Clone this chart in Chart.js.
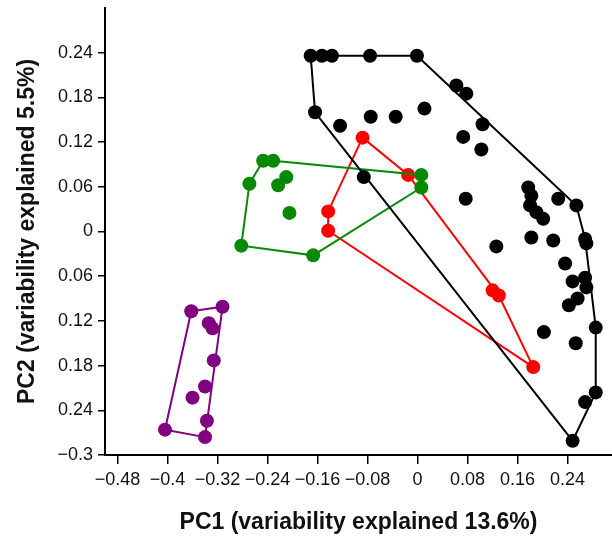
<!DOCTYPE html>
<html>
<head>
<meta charset="utf-8">
<script src="https://cdn.jsdelivr.net/npm/chart.js@4.4.1/dist/chart.umd.min.js"></script>
<style>
  html, body { margin: 0; padding: 0; background: #fff; }
  #wrap { width: 612px; height: 541px; }
</style>
</head>
<body>
<div id="wrap"><canvas id="pca"></canvas></div>
<script>
// PCA scores, one pair of arrays per group (PC1, PC2)
const blackX = [-0.171, -0.153, -0.137, -0.076, -0.001, 0.062, 0.078, -0.164, -0.124, -0.075,
  -0.035, 0.011, 0.104, 0.073, 0.102, -0.086, 0.077, 0.177, 0.182, 0.180,
  0.190, 0.201, 0.225, 0.254, 0.182, 0.217, 0.126, 0.268, 0.270, 0.236,
  0.248, 0.268, 0.270, 0.256, 0.242, 0.285, 0.202, 0.253, 0.285, 0.268, 0.248];
const blackY = [0.236, 0.236, 0.236, 0.236, 0.236, 0.196, 0.185, 0.160, 0.142, 0.154,
  0.154, 0.165, 0.144, 0.127, 0.110, 0.073, 0.044, 0.059, 0.048, 0.035,
  0.026, 0.017, 0.044, 0.035, -0.008, -0.012, -0.020, -0.010, -0.016, -0.043,
  -0.067, -0.062, -0.075, -0.090, -0.099, -0.129, -0.135, -0.150, -0.216, -0.229, -0.281];
const blackHull = [0, 4, 23, 27, 35, 38, 40, 7, 0];

const greenX = [-0.247, -0.231, -0.269, -0.210, -0.223, -0.205, -0.282, -0.167, 0.006, 0.006];
const greenY = [0.095, 0.095, 0.064, 0.073, 0.062, 0.025, -0.019, -0.032, 0.076, 0.059];
const greenHull = [0, 1, 8, 9, 7, 6, 2, 0];

const redX = [-0.088, -0.015, -0.143, -0.143, 0.120, 0.130, 0.185];
const redY = [0.126, 0.076, 0.027, 0.001, -0.079, -0.086, -0.182];
const redHull = [0, 1, 5, 6, 3, 2, 0];

const purpleX = [-0.362, -0.312, -0.334, -0.328, -0.326, -0.340, -0.360, -0.337, -0.404, -0.340];
const purpleY = [-0.107, -0.101, -0.123, -0.130, -0.173, -0.208, -0.223, -0.254, -0.266, -0.276];
const purpleHull = [0, 1, 9, 8, 0];

// axis ticks as printed on the original figure
const xTicks = [-0.48, -0.4, -0.32, -0.24, -0.16, -0.08, 0, 0.08, 0.16, 0.24];
const xTickLabels = ['\u22120.48', '\u22120.4', '\u22120.32', '\u22120.24', '\u22120.16', '\u22120.08', '0', '0.08', '0.16', '0.24'];
const yTicks = [-0.3, -0.24, -0.18, -0.12, -0.06, 0, 0.06, 0.12, 0.18, 0.24];
const yTickLabels = ['\u22120.3', '0.24', '0.18', '0.12', '0.06', '0', '0.06', '0.12', '0.18', '0.24'];

const pts = (xs, ys) => xs.map((x, i) => ({ x, y: ys[i] }));
const hull = (xs, ys, idx) => idx.map(i => ({ x: xs[i], y: ys[i] }));

function group(xs, ys, idx, color){
  return [
    { data: hull(xs, ys, idx), showLine: true, borderColor: color, borderWidth: 2,
      pointRadius: 0, fill: false, tension: 0 },
    { data: pts(xs, ys), showLine: false, backgroundColor: color, borderWidth: 0,
      pointRadius: 7, pointHoverRadius: 7 }
  ];
}

const FONT = "'Liberation Sans', Arial, sans-serif";

new Chart(document.getElementById('pca'), {
  type: 'scatter',
  data: {
    datasets: [
      ...group(blackX, blackY, blackHull, '#000000'),
      ...group(greenX, greenY, greenHull, '#068a06'),
      ...group(redX, redY, redHull, '#ff0000'),
      ...group(purpleX, purpleY, purpleHull, '#800080')
    ]
  },
  options: {
    responsive: true,
    maintainAspectRatio: false,
    animation: false,
    events: [],
    layout: { autoPadding: false, padding: { top: 8, right: 0, bottom: 0, left: 0 } },
    plugins: { legend: { display: false }, tooltip: { enabled: false } },
    scales: {
      x: {
        type: 'linear', min: -0.5, max: 0.311,
        afterBuildTicks: s => { s.ticks = xTicks.map(v => ({ value: v })); },
        afterFit: s => { s.height = 86; s.paddingLeft = 0; s.paddingRight = 0; },
        ticks: {
          autoSkip: false, maxRotation: 0, padding: 5, color: '#111',
          font: { family: FONT, size: 18 },
          callback: (v, i) => xTickLabels[i]
        },
        grid: { drawOnChartArea: false, drawTicks: true, tickLength: 9, color: '#000', lineWidth: 1.5 },
        border: { display: true, color: '#000', width: 2 },
        title: {
          display: true, text: 'PC1 (variability explained 13.6%)', color: '#111',
          font: { family: FONT, size: 23, weight: 'bold' }, padding: { top: 0, bottom: 5 }
        }
      },
      y: {
        type: 'linear', min: -0.3, max: 0.3,
        afterBuildTicks: s => { s.ticks = yTicks.map(v => ({ value: v })); },
        afterFit: s => { s.width = 105; s.paddingTop = 0; s.paddingBottom = 0; },
        ticks: {
          autoSkip: false, padding: 5, color: '#111',
          font: { family: FONT, size: 18 },
          callback: (v, i) => yTickLabels[i]
        },
        grid: { drawOnChartArea: false, drawTicks: true, tickLength: 7, color: '#000', lineWidth: 1.5 },
        border: { display: true, color: '#000', width: 2 },
        title: {
          display: true, text: 'PC2 (variability explained 5.5%)', color: '#111',
          font: { family: FONT, size: 23, weight: 'bold' }, padding: { top: 14, bottom: 0 }
        }
      }
    }
  }
});
</script>
</body>
</html>
